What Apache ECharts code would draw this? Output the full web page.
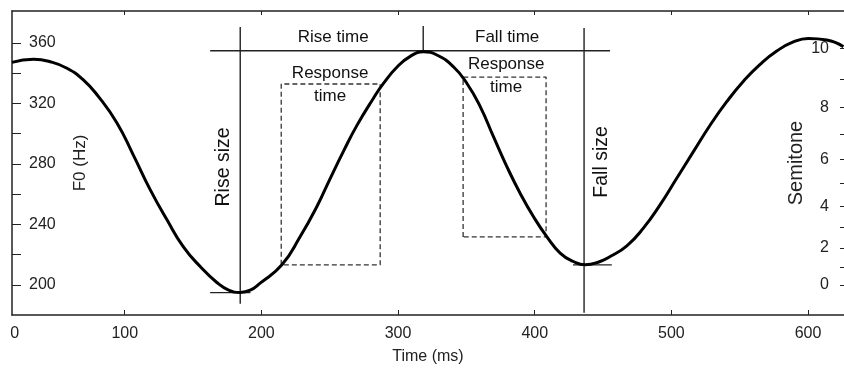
<!DOCTYPE html>
<html><head><meta charset="utf-8">
<script src="https://cdn.jsdelivr.net/npm/echarts@6/dist/echarts.min.js"></script>
<style>html,body{margin:0;padding:0;background:#fff}#c{width:844px;height:369px}</style>
</head><body><div id="c"></div>
<script>
// F0 contour (time in ms, F0 in Hz)
const timeMs = [17.5,33.3,45.5,57.7,69.9,80.8,94.3,106.2,118.7,130.9,142.8,155.2,167.4,176.0,184.5,191.8,199.1,215.0,228.4,240.6,250.3,260.1,269.9,282.0,289.3,299.1,308.9,318.6,328.4,340.5,350.3,360.1,369.8,379.6,389.3,399.0,408.8,418.6,428.3,436.9,447.8,455.2,467.4,479.5,491.7,503.9,516.1,528.3,540.5,552.7,564.9,577.1,589.2,600.2,613.7,625.9];
const f0Hz   = [347.2,349.2,347.6,343.3,335.5,324.5,307.1,286.0,262.8,243.0,225.3,212.1,201.5,196.5,194.9,196.4,201.1,213.2,231.9,251.8,270.3,288.5,305.5,323.5,333.3,344.0,351.2,354.2,352.1,344.3,333.4,317.9,298.0,278.2,260.6,245.2,231.9,221.0,215.4,213.2,215.4,218.7,225.8,237.5,252.9,270.5,288.1,305.6,321.2,334.7,345.9,354.7,360.7,363.0,362.0,357.6];

// axis ticks / labels
const xTickValues = [100,200,300,400,500,600];
const xLabelValues = [0,100,200,300,400,500,600];
const hzTicks = [200,220,240,260,280,300,320,340,360];
const hzLabels = [200,240,280,320,360];
const semitoneTicks = [0,1,2,3,4,5,6,7,8,9,10];
const semitoneLabels = [0,2,4,6,8,10];
const refHz = 200;

// annotation geometry (data coordinates: ms, Hz)
const riseSizeLine = [[184.5,370.6],[184.5,187.4]];
const riseMinLine  = [[162.5,194.8],[192,194.8]];
const topLine      = [[162.5,354.9],[455.1,354.9]];
const topDivider   = [[318.4,371.2],[318.4,354.9]];
const fallSizeLine = [[436.1,369.9],[436.1,181.5]];
const fallMinLine  = [[428,213.2],[456.4,213.2]];
const riseBox = [[214.5,213.2],[214.5,332.9],[286.9,332.9],[286.9,213.2],[214.5,213.2]];
const fallBox = [[347.6,231.7],[347.6,337.5],[408.3,337.5],[408.3,231.7],[347.6,231.7]];
const textNotes = [
  {name:'Rise time', value:[252.5,364.0]},
  {name:'Fall time', value:[379.8,364.0]},
  {name:'Response\ntime', value:[250.3,332.6]},
  {name:'Response\ntime', value:[379.1,338.2]}
];
const rotatedNotes = [
  {name:'Rise size', value:[172.0,278.0]},
  {name:'Fall size', value:[449.1,281.3]}
];

const xMin = 17.5, xMax = 626.3, yMin = 180, yMax = 381.2;
const FONT = 'Liberation Sans, Arial, Helvetica, sans-serif';
const ink = '#222';

const toPairs = (xs, ys) => xs.map((x, i) => [x, ys[i]]);
const semiToHz = s => refHz * Math.pow(2, s / 12);

function annoLine(data, dashed) {
  return {type:'line', data, showSymbol:false, symbol:'none', silent:true, z:2,
    lineStyle:{color: dashed ? '#333' : ink, width: dashed ? 1.3 : 1.4, type: dashed ? [5,3] : 'solid'}};
}
const noteLabel = {show:true, position:'inside', formatter:'{b}', fontFamily:FONT, color:'#111',
  textBorderWidth:0, opacity:1};

const chart = echarts.init(document.getElementById('c'), null, {renderer:'canvas'});
chart.setOption({
  animation:false,
  grid:{left:12, right:0, top:11, bottom:54, containLabel:false, outerBoundsMode:'none'},
  xAxis:[{
    type:'value', min:xMin, max:xMax, position:'bottom',
    name:'Time (ms)', nameLocation:'middle', nameGap:34, nameMoveOverlap:false,
    nameTextStyle:{fontFamily:FONT, fontSize:16, color:ink},
    axisLine:{show:true, lineStyle:{color:ink, width:1.5}},
    axisTick:{show:true, inside:true, length:5, customValues:xTickValues, lineStyle:{color:ink}},
    axisLabel:{show:true, margin:11, fontFamily:FONT, fontSize:16, color:ink,
      customValues: xLabelValues.map(v => v === 0 ? xMin + 2 : v),
      formatter: v => v < 50 ? String(xLabelValues[0]) : String(Math.round(v))},
    splitLine:{show:false}
  },{
    type:'value', min:xMin, max:xMax, position:'top',
    axisLine:{show:true, lineStyle:{color:ink, width:1.5}},
    axisTick:{show:true, inside:true, length:4, customValues:xTickValues, lineStyle:{color:ink}},
    axisLabel:{show:false}, splitLine:{show:false}
  }],
  yAxis:[{
    type:'value', min:yMin, max:yMax, position:'left',
    name:'F0 (Hz)', nameLocation:'middle', nameRotate:90, nameGap:-77, nameMoveOverlap:false,
    nameTextStyle:{fontFamily:FONT, fontSize:17, color:ink},
    axisLine:{show:true, lineStyle:{color:ink, width:1.5}},
    axisTick:{show:true, inside:true, length:9, customValues:hzTicks, lineStyle:{color:ink}},
    axisLabel:{show:true, inside:true, margin:17, fontFamily:FONT, fontSize:16, color:ink,
      customValues:hzLabels, formatter: v => String(Math.round(v))},
    splitLine:{show:false}
  },{
    type:'value', min:yMin, max:yMax, position:'right',
    name:'Semitone', nameLocation:'middle', nameRotate:90, nameGap:-58, nameMoveOverlap:false,
    nameTextStyle:{fontFamily:FONT, fontSize:20, color:ink},
    axisLine:{show:false},
    axisTick:{show:true, inside:true, length:4, customValues:semitoneTicks.map(semiToHz), lineStyle:{color:ink}},
    axisLabel:{show:true, inside:true, margin:15, fontFamily:FONT, fontSize:16, color:ink,
      customValues:semitoneLabels.map(semiToHz),
      formatter: v => String(Math.round(12 * Math.log2(v / refHz)))},
    splitLine:{show:false}
  }],
  series:[
    {type:'line', data:toPairs(timeMs, f0Hz), smooth:0.5, showSymbol:false, symbol:'none', z:5,
      lineStyle:{color:'#000', width:3}},
    annoLine(riseSizeLine), annoLine(riseMinLine), annoLine(topLine), annoLine(topDivider),
    annoLine(fallSizeLine), annoLine(fallMinLine),
    annoLine(riseBox, true), annoLine(fallBox, true),
    {type:'scatter', data:textNotes, symbolSize:0, silent:true, z:6, itemStyle:{opacity:1},
      label:Object.assign({fontSize:17, lineHeight:23}, noteLabel)},
    {type:'scatter', data:rotatedNotes, symbolSize:0, silent:true, z:6, itemStyle:{opacity:1},
      label:Object.assign({fontSize:19.5, rotate:90}, noteLabel)}
  ]
});
</script></body></html>
